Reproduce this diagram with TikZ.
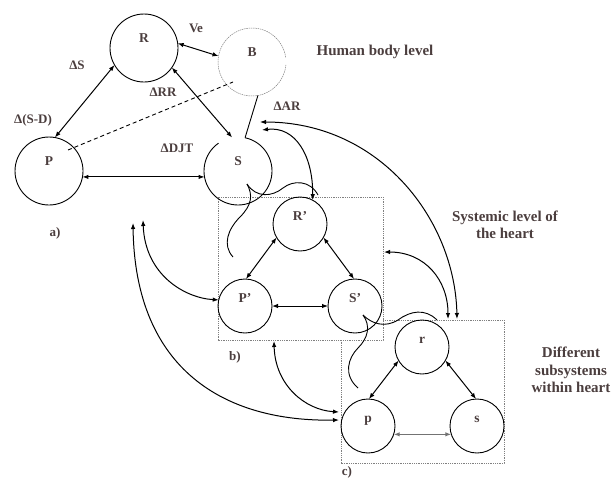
\documentclass[tikz,border=0pt]{standalone}
\usepackage{fontspec}
\setmainfont{Liberation Serif}
\usetikzlibrary{arrows.meta}
\definecolor{schrift}{RGB}{75,62,62}
\tikzset{
	kreis/.style={circle, draw, line width=0.9pt, minimum size=68pt, inner sep=0pt, outer sep=0pt,
		text height=9pt, text depth=21pt, text=schrift, font=\fontsize{13.5}{16}\selectfont\bfseries},
	kleinkreis/.style={kreis, minimum size=54pt, text depth=17pt},
	beschr/.style={text=schrift, font=\fontsize{13}{15}\selectfont\bfseries, inner sep=0pt},
	ebene/.style={text=schrift, font=\fontsize{15}{17.5}\selectfont\bfseries, align=center, inner sep=0pt},
	kasten/.style={draw=gray, line width=0.6pt, dash pattern=on 1pt off 0.8pt},
	pfeil/.style={{Latex[length=6pt,width=4.5pt]}-{Latex[length=6pt,width=4.5pt]}, line width=1pt},
	welle/.style={line width=0.9pt}
}
\begin{document}
\begin{tikzpicture}[x=1pt, y=-1pt]
		\useasboundingbox (0,0) rectangle (612,479);
		% Kaesten
		\draw[kasten] (341,320) rectangle ++ (163,143);
		\draw[kasten, fill=white] (218,197) rectangle ++ (165,143);
		% Ebene a)
		\begin{scope}
			\node[kreis] (R) at (144,48) {R};
			\node[kreis, draw=none] (B) at (252,62) {B};
			\node[kreis] (P) at (49,171) {P};
			\node[kreis, draw=none] (S) at (238,171) {S};
			\draw[gray, line width=0.5pt, dash pattern=on 1.5pt off 0.8pt] (B.8) arc [start angle=-8, end angle=-355, radius=34];
			\draw[line width=0.9pt] (S.125) arc [start angle=-125, end angle=-438, radius=34];
			\coordinate (pd) at (68,150);
			\coordinate (bd) at (233,82);
			\draw[pfeil] (R.8) -- (B.170);
			\draw[pfeil] (R.210) -- (P.80);
			\draw[pfeil] (R.325) -- (S.100);
			\draw[pfeil] (P.350) -- (S.190);
			\draw[line width=0.9pt] (B.280) -- (S.78);
			\draw[line width=0.9pt, dash pattern=on 4pt off 3pt] (pd) -- (bd);
			\node[beschr] (ve) at (196,28) {Ve};
			\node[beschr] (ds) at (77,65) {ΔS};
			\node[beschr] (dsd) at (33,120) {Δ(S-D)};
			\node[beschr] (drr) at (163,92) {ΔRR};
			\node[beschr] (ddjt) at (177,148) {ΔDJT};
			\node[beschr] (dar) at (287,106) {ΔAR};
			\node[beschr] (la) at (55,233) {a)};
		\end{scope}
		% Ebene b)
		\begin{scope}
			\node[kleinkreis] (R2) at (300,224) {R’};
			\node[kleinkreis] (P2) at (245,306) {P’};
			\node[kleinkreis] (S2) at (355,306) {S’};
			\draw[pfeil] (R2.210) -- (P2.88);
			\draw[pfeil] (R2.330) -- (S2.92);
			\draw[pfeil] (P2.east) -- (S2.west);
			\node[beschr] (lb) at (235,357) {b)};
		\end{scope}
		% Ebene c)
		\begin{scope}
			\node[kleinkreis] (r) at (422,347) {r};
			\node[kleinkreis] (p) at (368,426) {p};
			\node[kleinkreis] (s) at (477,426) {s};
			\draw[pfeil] (r.210) -- (p.88);
			\draw[pfeil] (r.330) -- (s.92);
			\draw[pfeil, draw=black!55, line width=1.6pt] (p.-18) -- (s.198);
			\node[beschr, anchor=south] (lc) at (347,478) {c)};
		\end{scope}
		% Ebenen
		\node[ebene] (hb) at (375,52) {Human body level};
		\node[ebene] (sl) at (505,225) {Systemic level of\\the heart};
		\node[ebene] (dh) at (571,370) {Different\\subsystems\\within heart};
		% Boegen zwischen den Ebenen
		\coordinate (sa) at (262,130);
		\coordinate (sb) at (260,122);
		\coordinate (ct1) at (448,319);
		\coordinate (ct2) at (457,319);
		\coordinate (br) at (384,252);
		\coordinate (bu) at (274,341);
		\coordinate (la1) at (133,223);
		\coordinate (la2) at (143,220);
		\coordinate (pl1) at (339,420);
		\coordinate (pl2) at (339,412);
		\draw[pfeil] (sa) .. controls (295,126) and (313,155) .. (R2.62);
		\draw[pfeil] (sb) .. controls (380,122) and (455,220) .. (ct2);
		\draw[pfeil] (br) .. controls (425,252) and (448,280) .. (ct1);
		\draw[pfeil] (la2) .. controls (145,275) and (185,298) .. (P2.167);
		\draw[pfeil] (la1) .. controls (135,370) and (225,422) .. (pl1);
		\draw[pfeil] (bu) .. controls (275,385) and (305,410) .. (pl2);
		% Wellenlinien
		\coordinate (ws) at (247,184);
		\coordinate (ws2) at (363,315);
		\draw[welle] (ws) .. controls (256,198) and (272,197) .. (283,188) .. controls (293,180) and (310,180) .. (318,195);
		\draw[welle] (ws) .. controls (253,195) and (252,205) .. (240,217) .. controls (228,229) and (222,245) .. (233,257);
		\draw[welle] (ws2) .. controls (372,324) and (385,328) .. (398,320) .. controls (410,311) and (425,308) .. (437,320);
		\draw[welle] (ws2) .. controls (371,326) and (368,338) .. (358,348) .. controls (348,358) and (343,375) .. (358,388);
	\end{tikzpicture}
\end{document}
